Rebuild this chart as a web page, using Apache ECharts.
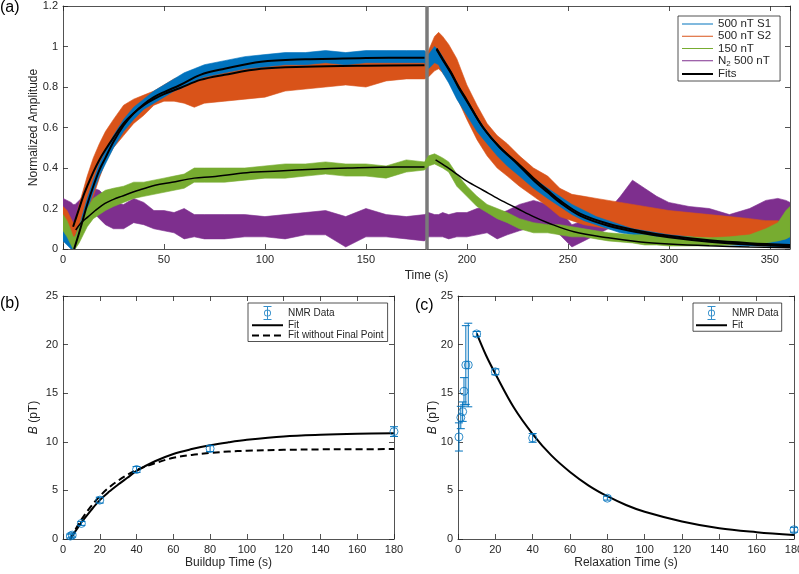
<!DOCTYPE html>
<html>
<head>
<meta charset="utf-8">
<script src="https://cdn.jsdelivr.net/npm/echarts@6.0.0/dist/echarts.min.js"></script>
<style>
  html, body { margin: 0; padding: 0; background: #fff; }
  #main { width: 799px; height: 574px; }
</style>
</head>
<body>
<div id="main"></div>
<script>
// (a) normalized amplitude vs time -- envelope (low / high) of each noisy trace
const timeA = [0, 2, 4, 5, 6, 8, 10, 12, 15, 18, 21, 25, 30, 35, 40, 45, 50, 55, 60, 65,
  70, 80, 90, 100, 110, 120, 130, 140, 150, 160, 170, 179, 181, 184, 186, 188, 191, 195, 200, 205,
  210, 215, 220, 226, 233, 240, 246, 252, 258, 264, 270, 276, 282, 288, 294, 300, 310, 320, 330, 340,
  348, 354, 358, 360];

const s1Lo = [0.04, 0.02, 0.0, 0.0, 0.01, 0.05, 0.12, 0.19, 0.28, 0.36, 0.42, 0.50, 0.58, 0.64, 0.69, 0.72, 0.75, 0.78, 0.80, 0.83,
  0.85, 0.87, 0.89, 0.90, 0.91, 0.91, 0.92, 0.91, 0.92, 0.92, 0.92, 0.92, 0.89, 0.92, 0.91, 0.87, 0.82, 0.74, 0.66, 0.58,
  0.52, 0.46, 0.41, 0.36, 0.30, 0.25, 0.21, 0.17, 0.14, 0.12, 0.10, 0.08, 0.07, 0.06, 0.05, 0.04, 0.03, 0.025, 0.02, 0.015,
  0.015, 0.01, 0.01, 0.01];
const s1Hi = [0.09, 0.08, 0.05, 0.03, 0.06, 0.11, 0.18, 0.25, 0.34, 0.42, 0.48, 0.56, 0.64, 0.70, 0.74, 0.78, 0.81, 0.84, 0.87, 0.89,
  0.91, 0.93, 0.95, 0.96, 0.97, 0.97, 0.98, 0.97, 0.98, 0.98, 0.98, 0.98, 0.96, 1.0, 0.98, 0.95, 0.89, 0.82, 0.73, 0.65,
  0.58, 0.52, 0.47, 0.41, 0.35, 0.30, 0.26, 0.22, 0.19, 0.16, 0.14, 0.12, 0.10, 0.09, 0.08, 0.07, 0.06, 0.05, 0.045, 0.04,
  0.04, 0.04, 0.05, 0.06];

const s2Lo = [0.12, 0.09, 0.05, 0.04, 0.04, 0.08, 0.13, 0.18, 0.26, 0.35, 0.43, 0.50, 0.56, 0.62, 0.66, 0.71, 0.73, 0.73, 0.72, 0.70,
  0.72, 0.73, 0.74, 0.75, 0.78, 0.79, 0.80, 0.81, 0.80, 0.83, 0.84, 0.84, 0.85, 0.88, 0.89, 0.87, 0.83, 0.75, 0.64, 0.54,
  0.46, 0.40, 0.36, 0.31, 0.26, 0.21, 0.16, 0.14, 0.12, 0.11, 0.10, 0.09, 0.08, 0.07, 0.065, 0.06, 0.06, 0.055, 0.05, 0.05,
  0.045, 0.04, 0.03, 0.02];
const s2Hi = [0.21, 0.19, 0.15, 0.13, 0.14, 0.22, 0.29, 0.36, 0.45, 0.52, 0.58, 0.64, 0.71, 0.74, 0.76, 0.78, 0.81, 0.84, 0.86, 0.85,
  0.88, 0.90, 0.92, 0.93, 0.94, 0.95, 0.95, 0.96, 0.96, 0.96, 0.96, 0.95, 0.98, 1.05, 1.07, 1.05, 1.01, 0.94, 0.81, 0.71,
  0.62, 0.56, 0.52, 0.46, 0.40, 0.36, 0.30, 0.27, 0.26, 0.25, 0.24, 0.23, 0.22, 0.21, 0.20, 0.19, 0.18, 0.17, 0.16, 0.15,
  0.14, 0.14, 0.12, 0.10];

const n150Lo = [0.09, 0.06, 0.02, 0.0, 0.0, 0.03, 0.07, 0.11, 0.15, 0.17, 0.19, 0.21, 0.23, 0.25, 0.26, 0.27, 0.28, 0.29, 0.30, 0.33,
  0.33, 0.33, 0.34, 0.35, 0.35, 0.36, 0.37, 0.36, 0.36, 0.35, 0.38, 0.39, 0.41, 0.42, 0.41, 0.40, 0.38, 0.31, 0.26, 0.21,
  0.18, 0.15, 0.13, 0.10, 0.08, 0.08, 0.07, 0.06, 0.06, 0.05, 0.04, 0.035, 0.03, 0.02, 0.02, 0.015, 0.015, 0.015, 0.02, 0.025,
  0.03, 0.04, 0.05, 0.06];
const n150Hi = [0.17, 0.14, 0.09, 0.06, 0.06, 0.11, 0.16, 0.20, 0.25, 0.27, 0.29, 0.30, 0.31, 0.33, 0.33, 0.34, 0.35, 0.36, 0.37, 0.40,
  0.40, 0.40, 0.40, 0.41, 0.42, 0.42, 0.43, 0.42, 0.42, 0.41, 0.44, 0.43, 0.46, 0.47, 0.46, 0.45, 0.43, 0.37, 0.31, 0.26,
  0.22, 0.20, 0.18, 0.15, 0.13, 0.12, 0.12, 0.11, 0.10, 0.09, 0.08, 0.075, 0.07, 0.07, 0.06, 0.06, 0.06, 0.055, 0.06, 0.07,
  0.10, 0.13, 0.19, 0.21];

const n2Lo = [0.15, 0.14, 0.13, 0.12, 0.12, 0.14, 0.15, 0.17, 0.18, 0.15, 0.12, 0.10, 0.10, 0.13, 0.12, 0.10, 0.09, 0.08, 0.05, 0.06,
  0.05, 0.05, 0.06, 0.06, 0.05, 0.07, 0.07, 0.01, 0.06, 0.06, 0.05, 0.04, 0.06, 0.06, 0.06, 0.06, 0.05, 0.06, 0.06, 0.07,
  0.08, 0.05, 0.07, 0.09, 0.11, 0.10, 0.07, 0.01, 0.04, 0.07, 0.10, 0.15, 0.20, 0.18, 0.16, 0.15, 0.14, 0.13, 0.12, 0.12,
  0.13, 0.13, 0.13, 0.13];
const n2Hi = [0.25, 0.24, 0.23, 0.22, 0.22, 0.24, 0.26, 0.28, 0.30, 0.29, 0.26, 0.23, 0.22, 0.25, 0.23, 0.19, 0.19, 0.18, 0.20, 0.17,
  0.17, 0.17, 0.17, 0.16, 0.17, 0.18, 0.19, 0.16, 0.20, 0.17, 0.16, 0.17, 0.18, 0.17, 0.17, 0.18, 0.17, 0.18, 0.18, 0.20,
  0.21, 0.17, 0.19, 0.22, 0.24, 0.22, 0.19, 0.12, 0.14, 0.17, 0.19, 0.26, 0.34, 0.30, 0.26, 0.23, 0.21, 0.20, 0.17, 0.20,
  0.24, 0.25, 0.24, 0.23];

// (a) fitted curves, [time, amplitude]
const fitS1Rise = [[5.5, 0.0], [8, 0.08], [10, 0.15], [12, 0.22], [15, 0.31], [18, 0.39], [21, 0.45], [25, 0.53], [30, 0.61], [35, 0.67],
  [40, 0.715], [45, 0.75], [50, 0.775], [58, 0.81], [68, 0.86], [80, 0.89], [98, 0.925], [120, 0.937], [150, 0.943], [179, 0.945]];
const fitS2Rise = [[5, 0.11], [8, 0.2], [10, 0.26], [12, 0.31], [15, 0.38], [18, 0.44], [21, 0.49], [25, 0.55], [30, 0.62], [35, 0.67],
  [40, 0.71], [45, 0.74], [50, 0.765], [58, 0.795], [68, 0.835], [80, 0.86], [98, 0.89], [120, 0.9], [150, 0.905], [179, 0.907]];
const fit150Rise = [[6.3, 0.094], [9, 0.13], [12.5, 0.16], [16, 0.19], [20.8, 0.225], [25, 0.245], [29, 0.26], [37.4, 0.29], [45.6, 0.315],
  [54, 0.33], [65, 0.35], [74, 0.357], [91, 0.377], [107, 0.385], [124, 0.394], [141, 0.4], [165, 0.405], [179, 0.405]];
const fitS1Decay = [[185, 0.99], [188, 0.94], [192, 0.875], [196, 0.8], [200, 0.735], [208, 0.6], [216, 0.505], [225, 0.42], [233, 0.34],
  [240, 0.28], [246, 0.23], [256, 0.165], [270, 0.115], [286, 0.08], [300, 0.058], [320, 0.036], [340, 0.022], [360, 0.014]];
const fitS2Decay = [[185, 0.985], [188, 0.935], [192, 0.87], [196, 0.795], [200, 0.73], [208, 0.6], [216, 0.505], [225, 0.425], [233, 0.35],
  [240, 0.29], [246, 0.24], [256, 0.175], [270, 0.125], [286, 0.088], [300, 0.065], [320, 0.043], [340, 0.029], [360, 0.02]];
const fit150Decay = [[184.5, 0.44], [190, 0.405], [195, 0.37], [200, 0.335], [208, 0.29], [216, 0.245], [225, 0.2], [233, 0.16],
  [240, 0.13], [253, 0.085], [270, 0.055], [286, 0.035], [300, 0.025], [320, 0.016], [340, 0.01], [360, 0.006]];
const switchTime = 180;

// (b) buildup
const buildupT = [4, 5, 10, 20, 40, 80, 180];
const buildupB = [0.3, 0.4, 1.6, 4.0, 7.15, 9.3, 11.05];
const buildupErr = [0.2, 0.2, 0.2, 0.3, 0.3, 0.3, 0.5];
const fitBuildup = [[4, 0], [6, 0.6], [8, 1.15], [10, 1.7], [15, 2.9], [20, 4.0], [25, 4.85], [30, 5.6], [35, 6.3], [40, 7.0],
  [50, 8.0], [60, 8.75], [70, 9.25], [80, 9.65], [90, 9.95], [100, 10.2], [120, 10.55], [140, 10.72], [160, 10.82], [180, 10.87]];
const fitBuildupNoLast = [[4, 0], [6, 0.7], [8, 1.4], [10, 2.0], [15, 3.3], [20, 4.4], [25, 5.3], [30, 6.0], [35, 6.6], [40, 7.1],
  [50, 7.8], [60, 8.35], [70, 8.65], [80, 8.85], [90, 9.0], [100, 9.08], [120, 9.17], [140, 9.22], [160, 9.24], [180, 9.25]];

// (c) relaxation
const relaxT = [0.5, 1.5, 2.5, 3.2, 4.2, 5.5, 10, 20, 40, 80, 180];
const relaxB = [10.5, 12.5, 13.1, 15.2, 17.9, 17.9, 21.1, 17.2, 10.4, 4.2, 0.95];
const relaxErr = [1.45, 1.15, 1.0, 1.4, 4.05, 4.3, 0.25, 0.3, 0.45, 0.2, 0.25];
const fitRelax = [[10, 21.15], [15, 18.9], [20, 17.0], [30, 13.5], [40, 10.8], [50, 8.6], [60, 6.9], [70, 5.5], [80, 4.4],
  [90, 3.5], [100, 2.8], [120, 1.8], [140, 1.1], [160, 0.7], [180, 0.4]];

const BLUE = '#0072BD', ORANGE = '#D95319', GREEN = '#77AC30', PURPLE = '#7E2F8E';
const INK = '#262626';
const FONT = '"Liberation Sans", Arial, sans-serif';

const LINE_THIN = 'path://M0,0H31V1H0Z';
const LINE_THICK = 'path://M0,0H31V2H0Z';
const LINE_DASH = 'path://M0,0H7V2H0Z M11,0H18V2H11Z M22,0H29V2H22Z M31,0H31.01V2H31Z';
const ERR_ICON = 'path://M0,0H8V1H0Z M0,13H8V14H0Z M3.5,0H4.5V14H3.5Z ' +
  'M0.5,7A3.5,3.5 0 1 1 7.5,7A3.5,3.5 0 1 1 0.5,7Z M1.4,7A2.6,2.6 0 1 0 6.6,7A2.6,2.6 0 1 0 1.4,7Z';

function bandSeries(name, lo, hi, color, z) {
  return {
    name: name, type: 'custom', xAxisIndex: 0, yAxisIndex: 0, z: z, silent: true, clip: true,
    itemStyle: { color: color },
    encode: { x: 0, y: [1, 2] },
    data: timeA.map((t, i) => [t, lo[i], hi[i]]),
    renderItem: function (params, api) {
      if (params.dataIndexInside !== 0) return null;
      const n = params.dataInsideLength;
      const top = [], bot = [];
      for (let j = 0; j < n; j++) {
        top.push(api.coord([api.value(0, j), api.value(2, j)]));
        bot.push(api.coord([api.value(0, j), api.value(1, j)]));
      }
      return {
        type: 'polygon',
        shape: { points: top.concat(bot.reverse()) },
        style: { fill: color, stroke: color, lineWidth: 0.6 }
      };
    }
  };
}

function fitLine(name, data, width, xi, yi, dash) {
  return {
    name: name, type: 'line', xAxisIndex: xi, yAxisIndex: yi, data: data, z: 6,
    smooth: 0.35, symbol: 'none', silent: true,
    itemStyle: { color: '#000' },
    lineStyle: { color: '#000', width: width, type: dash || 'solid' }
  };
}

function errorBars(xs, ys, es, xi, yi) {
  return {
    name: 'NMR Data err', type: 'custom', xAxisIndex: xi, yAxisIndex: yi, z: 7, silent: true,
    data: xs.map((x, i) => [x, ys[i], es[i]]),
    renderItem: function (params, api) {
      const x = api.value(0), y = api.value(1), e = api.value(2);
      const hi = api.coord([x, y + e]), lo = api.coord([x, y - e]);
      const st = { stroke: BLUE, lineWidth: 1 };
      return {
        type: 'group',
        children: [
          { type: 'line', shape: { x1: hi[0], y1: hi[1], x2: lo[0], y2: lo[1] }, style: st },
          { type: 'line', shape: { x1: hi[0] - 4, y1: hi[1], x2: hi[0] + 4, y2: hi[1] }, style: st },
          { type: 'line', shape: { x1: lo[0] - 4, y1: lo[1], x2: lo[0] + 4, y2: lo[1] }, style: st }
        ]
      };
    }
  };
}

function markers(xs, ys, xi, yi) {
  return {
    name: 'NMR Data', type: 'scatter', xAxisIndex: xi, yAxisIndex: yi, z: 8, silent: true,
    symbol: 'circle', symbolSize: 8,
    itemStyle: { color: 'rgba(0,0,0,0)', borderColor: BLUE, borderWidth: 1 },
    data: xs.map((x, i) => [x, ys[i]])
  };
}

const axisBase = {
  axisLine: { show: true, onZero: false, lineStyle: { color: INK, width: 0.8 } },
  axisTick: { show: true, inside: true, length: 5, lineStyle: { color: INK, width: 0.8 } },
  splitLine: { show: false },
  axisLabel: { color: INK, fontSize: 11, fontFamily: FONT, margin: 5 },
  nameTextStyle: { color: INK, fontSize: 12, fontFamily: FONT },
  nameMoveOverlap: false
};

function xAx(grid, min, max, interval, name, gap, top) {
  return Object.assign({}, axisBase, {
    type: 'value', gridIndex: grid, min: min, max: max, interval: interval,
    position: top ? 'top' : 'bottom',
    name: top ? '' : name, nameLocation: 'middle', nameGap: gap,
    axisLabel: Object.assign({}, axisBase.axisLabel, { show: !top, showMaxLabel: max % interval === 0 })
  });
}

function yAx(grid, min, max, interval, name, gap, right) {
  return Object.assign({}, axisBase, {
    type: 'value', gridIndex: grid, min: min, max: max, interval: interval,
    position: right ? 'right' : 'left',
    name: right ? '' : name, nameLocation: 'middle', nameGap: gap,
    nameTextStyle: Object.assign({}, axisBase.nameTextStyle, {
      rich: { i: { fontStyle: 'italic', fontSize: 12, fontFamily: FONT, color: INK } }
    }),
    axisLabel: Object.assign({}, axisBase.axisLabel, { show: !right })
  });
}

const legendBase = {
  orient: 'vertical', itemWidth: 31, itemHeight: 14, itemGap: 0.25,
  backgroundColor: '#fff', borderColor: INK, borderWidth: 0.8, borderRadius: 0,
  selectedMode: false, symbolKeepAspect: true
};

const chart = echarts.init(document.getElementById('main'));

chart.setOption({
  animation: false,
  backgroundColor: '#fff',
  textStyle: { fontFamily: FONT },
  grid: [
    { left: 63, top: 6, width: 727, height: 243, outerBoundsMode: 'none' },
    { left: 63, top: 296, width: 331, height: 243, outerBoundsMode: 'none' },
    { left: 458, top: 296, width: 336, height: 243, outerBoundsMode: 'none' }
  ],
  xAxis: [
    xAx(0, 0, 360, 50, 'Time (s)', 21, false),
    xAx(0, 0, 360, 50, '', 0, true),
    xAx(1, 0, 180, 20, 'Buildup Time (s)', 18, false),
    xAx(1, 0, 180, 20, '', 0, true),
    xAx(2, 0, 180, 20, 'Relaxation Time (s)', 18, false),
    xAx(2, 0, 180, 20, '', 0, true)
  ],
  yAxis: [
    yAx(0, 0, 1.2, 0.2, 'Normalized Amplitude', 23, false),
    yAx(0, 0, 1.2, 0.2, '', 0, true),
    yAx(1, 0, 25, 5, '{i|B} (pT)', 23, false),
    yAx(1, 0, 25, 5, '', 0, true),
    yAx(2, 0, 25, 5, '{i|B} (pT)', 19, false),
    yAx(2, 0, 25, 5, '', 0, true)
  ],
  legend: [
    Object.assign({}, legendBase, {
      left: 678, top: 16, padding: [2, 9, 1, 4],
      textStyle: {
        color: INK, fontSize: 11.5, fontFamily: FONT,
        rich: {
          t: { fontSize: 11.5, lineHeight: 14, color: INK, fontFamily: FONT },
          s: { fontSize: 8, lineHeight: 8, verticalAlign: 'bottom', color: INK, fontFamily: FONT }
        }
      },
      formatter: function (name) {
        return name === 'N2 500 nT' ? '{t|N}{s|2}{t| 500 nT}' : '{t|' + name + '}';
      },
      data: [
        { name: '500 nT S1', icon: LINE_THIN, itemStyle: { color: BLUE, borderWidth: 0 } },
        { name: '500 nT S2', icon: LINE_THIN, itemStyle: { color: ORANGE, borderWidth: 0 } },
        { name: '150 nT', icon: LINE_THIN, itemStyle: { color: GREEN, borderWidth: 0 } },
        { name: 'N2 500 nT', icon: LINE_THIN, itemStyle: { color: PURPLE, borderWidth: 0 } },
        { name: 'Fits', icon: LINE_THICK, itemStyle: { color: '#000', borderWidth: 0 } }
      ]
    }),
    Object.assign({}, legendBase, {
      left: 248, top: 303, padding: [3, 4, 1, 4],
      textStyle: { color: INK, fontSize: 10, fontFamily: FONT },
      data: [
        { name: 'NMR Data', icon: ERR_ICON, itemStyle: { color: BLUE, borderWidth: 0 } },
        { name: 'Fit', icon: LINE_THICK, itemStyle: { color: '#000', borderWidth: 0 } },
        { name: 'Fit without Final Point', icon: LINE_DASH, itemStyle: { color: '#000', borderWidth: 0 } }
      ]
    }),
    Object.assign({}, legendBase, {
      left: 693, top: 303, padding: [3, 3, 1, 3],
      textStyle: { color: INK, fontSize: 10, fontFamily: FONT },
      data: [
        { name: 'NMR Data', icon: ERR_ICON, itemStyle: { color: BLUE, borderWidth: 0 } },
        { name: 'Fit', icon: LINE_THICK, itemStyle: { color: '#000', borderWidth: 0 } }
      ]
    })
  ],
  graphic: [
    { type: 'text', left: 0, top: 0, style: { text: '(a)', font: '16px ' + FONT, fill: '#000' } },
    { type: 'text', left: 0, top: 296, style: { text: '(b)', font: '16px ' + FONT, fill: '#000' } },
    { type: 'text', left: 415, top: 298, style: { text: '(c)', font: '16px ' + FONT, fill: '#000' } }
  ],
  series: [
    bandSeries('N2 500 nT', n2Lo, n2Hi, PURPLE, 2),
    bandSeries('500 nT S2', s2Lo, s2Hi, ORANGE, 3),
    bandSeries('500 nT S1', s1Lo, s1Hi, BLUE, 4),
    bandSeries('150 nT', n150Lo, n150Hi, GREEN, 5),
    fitLine('Fits', fitS1Rise, 2, 0, 0),
    fitLine('Fits', fitS2Rise, 2, 0, 0),
    fitLine('Fits', fit150Rise, 1.5, 0, 0),
    fitLine('Fits', fitS1Decay, 2, 0, 0),
    fitLine('Fits', fitS2Decay, 2, 0, 0),
    fitLine('Fits', fit150Decay, 1.5, 0, 0),
    {
      name: 'switch', type: 'line', xAxisIndex: 0, yAxisIndex: 0, data: [], z: 9, silent: true,
      markLine: {
        silent: true, symbol: 'none', animation: false, label: { show: false },
        lineStyle: { color: '#7a7a7a', width: 3.5, type: 'solid' },
        data: [{ xAxis: switchTime }]
      }
    },
    // (b)
    fitLine('Fit', fitBuildup, 2, 2, 2),
    fitLine('Fit without Final Point', fitBuildupNoLast, 2, 2, 2, [7, 4]),
    errorBars(buildupT, buildupB, buildupErr, 2, 2),
    markers(buildupT, buildupB, 2, 2),
    // (c)
    fitLine('Fit', fitRelax, 2, 4, 4),
    errorBars(relaxT, relaxB, relaxErr, 4, 4),
    markers(relaxT, relaxB, 4, 4)
  ]
});
</script>
</body>
</html>
